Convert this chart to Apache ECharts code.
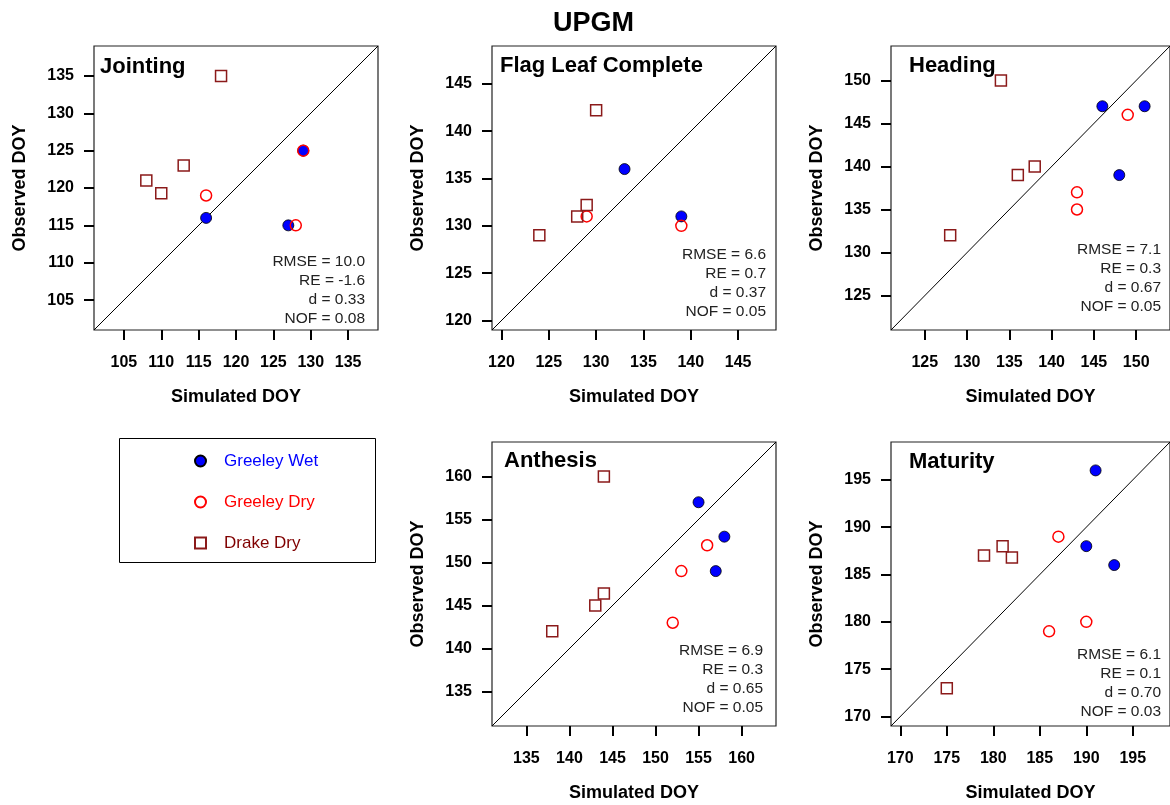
<!DOCTYPE html>
<html><head><meta charset="utf-8">
<script src="https://cdn.jsdelivr.net/npm/echarts@6/dist/echarts.min.js"></script>
<style>html,body{margin:0;padding:0;background:#fff}#c{width:1170px;height:805px}</style>
</head><body><div id="c"></div>
<script>
// ---- data ----
const panelNames = ['Jointing', 'Flag Leaf Complete', 'Heading', 'Anthesis', 'Maturity'];
const axisMin = [101, 119, 121, 131, 169];
const axisMax = [139, 149, 154, 164, 199];
const tickJointing = [105, 110, 115, 120, 125, 130, 135];
const tickFlag = [120, 125, 130, 135, 140, 145];
const tickHeading = [125, 130, 135, 140, 145, 150];
const tickAnthesis = [135, 140, 145, 150, 155, 160];
const tickMaturity = [170, 175, 180, 185, 190, 195];

// [simulated, observed]
const wetJointing = [[116, 116], [127, 115], [129, 125]];
const dryJointing = [[116, 119], [128, 115], [129, 125]];
const drakeJointing = [[108, 121], [110, 119.3], [113, 123], [118, 135]];

const wetFlag = [[133, 136], [139, 131]];
const dryFlag = [[129, 131], [139, 130]];
const drakeFlag = [[124, 129], [128, 131], [129, 132.2], [130, 142.2]];

const wetHeading = [[146, 147], [148, 139], [151, 147]];
const dryHeading = [[143, 137], [143, 135], [149, 146]];
const drakeHeading = [[128, 132], [134, 150], [136, 139], [138, 140]];

const wetAnthesis = [[155, 157], [157, 149], [158, 153]];
const dryAnthesis = [[152, 143], [153, 149], [156, 152]];
const drakeAnthesis = [[138, 142], [143, 145], [144, 146.4], [144, 160]];

const wetMaturity = [[190, 188], [191, 196], [193, 186]];
const dryMaturity = [[186, 179], [187, 189], [190, 180]];
const drakeMaturity = [[175, 173], [179, 187], [181, 188], [182, 186.8]];

const statsJointing = ['RMSE = 10.0', 'RE = -1.6', 'd = 0.33', 'NOF = 0.08'];
const statsFlag = ['RMSE = 6.6', 'RE = 0.7', 'd = 0.37', 'NOF = 0.05'];
const statsHeading = ['RMSE = 7.1', 'RE = 0.3', 'd = 0.67', 'NOF = 0.05'];
const statsAnthesis = ['RMSE = 6.9', 'RE = 0.3', 'd = 0.65', 'NOF = 0.05'];
const statsMaturity = ['RMSE = 6.1', 'RE = 0.1', 'd = 0.70', 'NOF = 0.03'];

const seriesNames = ['Greeley Wet', 'Greeley Dry', 'Drake Dry'];

// ---- layout ----
const FONT = '"Liberation Sans", Arial, Helvetica, sans-serif';
const SIZE = 284;
const gridPos = [[94, 46], [492, 46], [891, 46], [492, 442], [891, 442]];
const titlePos = [[100, 68], [500, 67], [909, 67], [504, 462], [909, 463]];
const statsPos = [[365, 262], [766, 255], [1161, 250], [763, 651], [1161, 655]];
const ticks = [tickJointing, tickFlag, tickHeading, tickAnthesis, tickMaturity];
const wet = [wetJointing, wetFlag, wetHeading, wetAnthesis, wetMaturity];
const dry = [dryJointing, dryFlag, dryHeading, dryAnthesis, dryMaturity];
const drake = [drakeJointing, drakeFlag, drakeHeading, drakeAnthesis, drakeMaturity];
const stats = [statsJointing, statsFlag, statsHeading, statsAnthesis, statsMaturity];

const grid = [], xAxis = [], yAxis = [], series = [], graphic = [];
for (let i = 0; i < 5; i++) {
  grid.push({left: gridPos[i][0], top: gridPos[i][1], width: SIZE, height: SIZE,
    show: true, borderColor: '#222', borderWidth: 1.2, backgroundColor: 'transparent'});
  const common = {
    type: 'value', gridIndex: i, min: axisMin[i], max: axisMax[i],
    axisLine: {show: false},
    axisTick: {show: true, inside: false, length: 10, lineStyle: {color: '#000', width: 2}, customValues: ticks[i]},
    splitLine: {show: false},
    nameLocation: 'middle',
    nameTextStyle: {fontFamily: FONT, fontSize: 18, fontWeight: 'bold', color: '#000'}
  };
  xAxis.push(Object.assign({}, common, {
    name: 'Simulated DOY', nameGap: 58,
    axisLabel: {customValues: ticks[i], fontFamily: FONT, fontSize: 16, fontWeight: 'bold', color: '#000', margin: 25}
  }));
  yAxis.push(Object.assign({}, common, {
    name: 'Observed DOY', nameGap: 65,
    axisLabel: {customValues: ticks[i], fontFamily: FONT, fontSize: 16, fontWeight: 'bold', color: '#000', margin: 20}
  }));
  series.push({type: 'line', xAxisIndex: i, yAxisIndex: i, silent: true, symbol: 'none', z: 1,
    data: [[axisMin[i], axisMin[i]], [axisMax[i], axisMax[i]]],
    lineStyle: {color: '#000', width: 1}});
  series.push({name: seriesNames[0], type: 'scatter', xAxisIndex: i, yAxisIndex: i, z: 3,
    symbol: 'circle', symbolSize: 11, data: wet[i],
    itemStyle: {color: '#0000ff', borderColor: '#000', borderWidth: 0.8, opacity: 1}});
  series.push({name: seriesNames[1], type: 'scatter', xAxisIndex: i, yAxisIndex: i, z: 4,
    symbol: 'circle', symbolSize: 11, data: dry[i],
    itemStyle: {color: 'rgba(255,255,255,0)', borderColor: '#ff0000', borderWidth: 1.5, opacity: 1}});
  series.push({name: seriesNames[2], type: 'scatter', xAxisIndex: i, yAxisIndex: i, z: 4,
    symbol: 'rect', symbolSize: 11, data: drake[i],
    itemStyle: {color: 'rgba(255,255,255,0)', borderColor: '#8b1a1a', borderWidth: 1.5, opacity: 1}});
  graphic.push({type: 'text', left: titlePos[i][0], top: titlePos[i][1] - 12, z: 10,
    style: {text: panelNames[i], font: 'bold 22px ' + FONT, fill: '#000'}});
  for (let k = 0; k < stats[i].length; k++) {
    graphic.push({type: 'text', x: statsPos[i][0], y: statsPos[i][1] + k * 19, z: 10,
      style: {text: stats[i][k], font: '15.5px ' + FONT, fill: '#222', align: 'right', verticalAlign: 'middle'}});
  }
}
// legend frame
graphic.push({type: 'rect', shape: {x: 119.5, y: 438.5, width: 256, height: 124}, z: 0,
  style: {fill: 'none', stroke: '#000', lineWidth: 1}});

const option = {
  animation: false,
  backgroundColor: '#fff',
  title: {text: 'UPGM', left: 548, top: 5,
    textStyle: {fontFamily: FONT, fontSize: 27, fontWeight: 'bold', color: '#000'}},
  legend: {
    orient: 'vertical', left: 189, top: 446, itemWidth: 11, itemHeight: 11, itemGap: 21,
    selectedMode: false,
    data: [
      {name: seriesNames[0], textStyle: {color: '#0000ff'}},
      {name: seriesNames[1], textStyle: {color: '#ff0000'}},
      {name: seriesNames[2], textStyle: {color: '#800000'}}
    ],
    textStyle: {fontFamily: FONT, fontSize: 17, lineHeight: 20, padding: [0, 0, 0, 13]}
  },
  grid, xAxis, yAxis, series, graphic
};
const chart = echarts.init(document.getElementById('c'), null, {renderer: 'canvas'});
chart.setOption(option);
</script></body></html>
